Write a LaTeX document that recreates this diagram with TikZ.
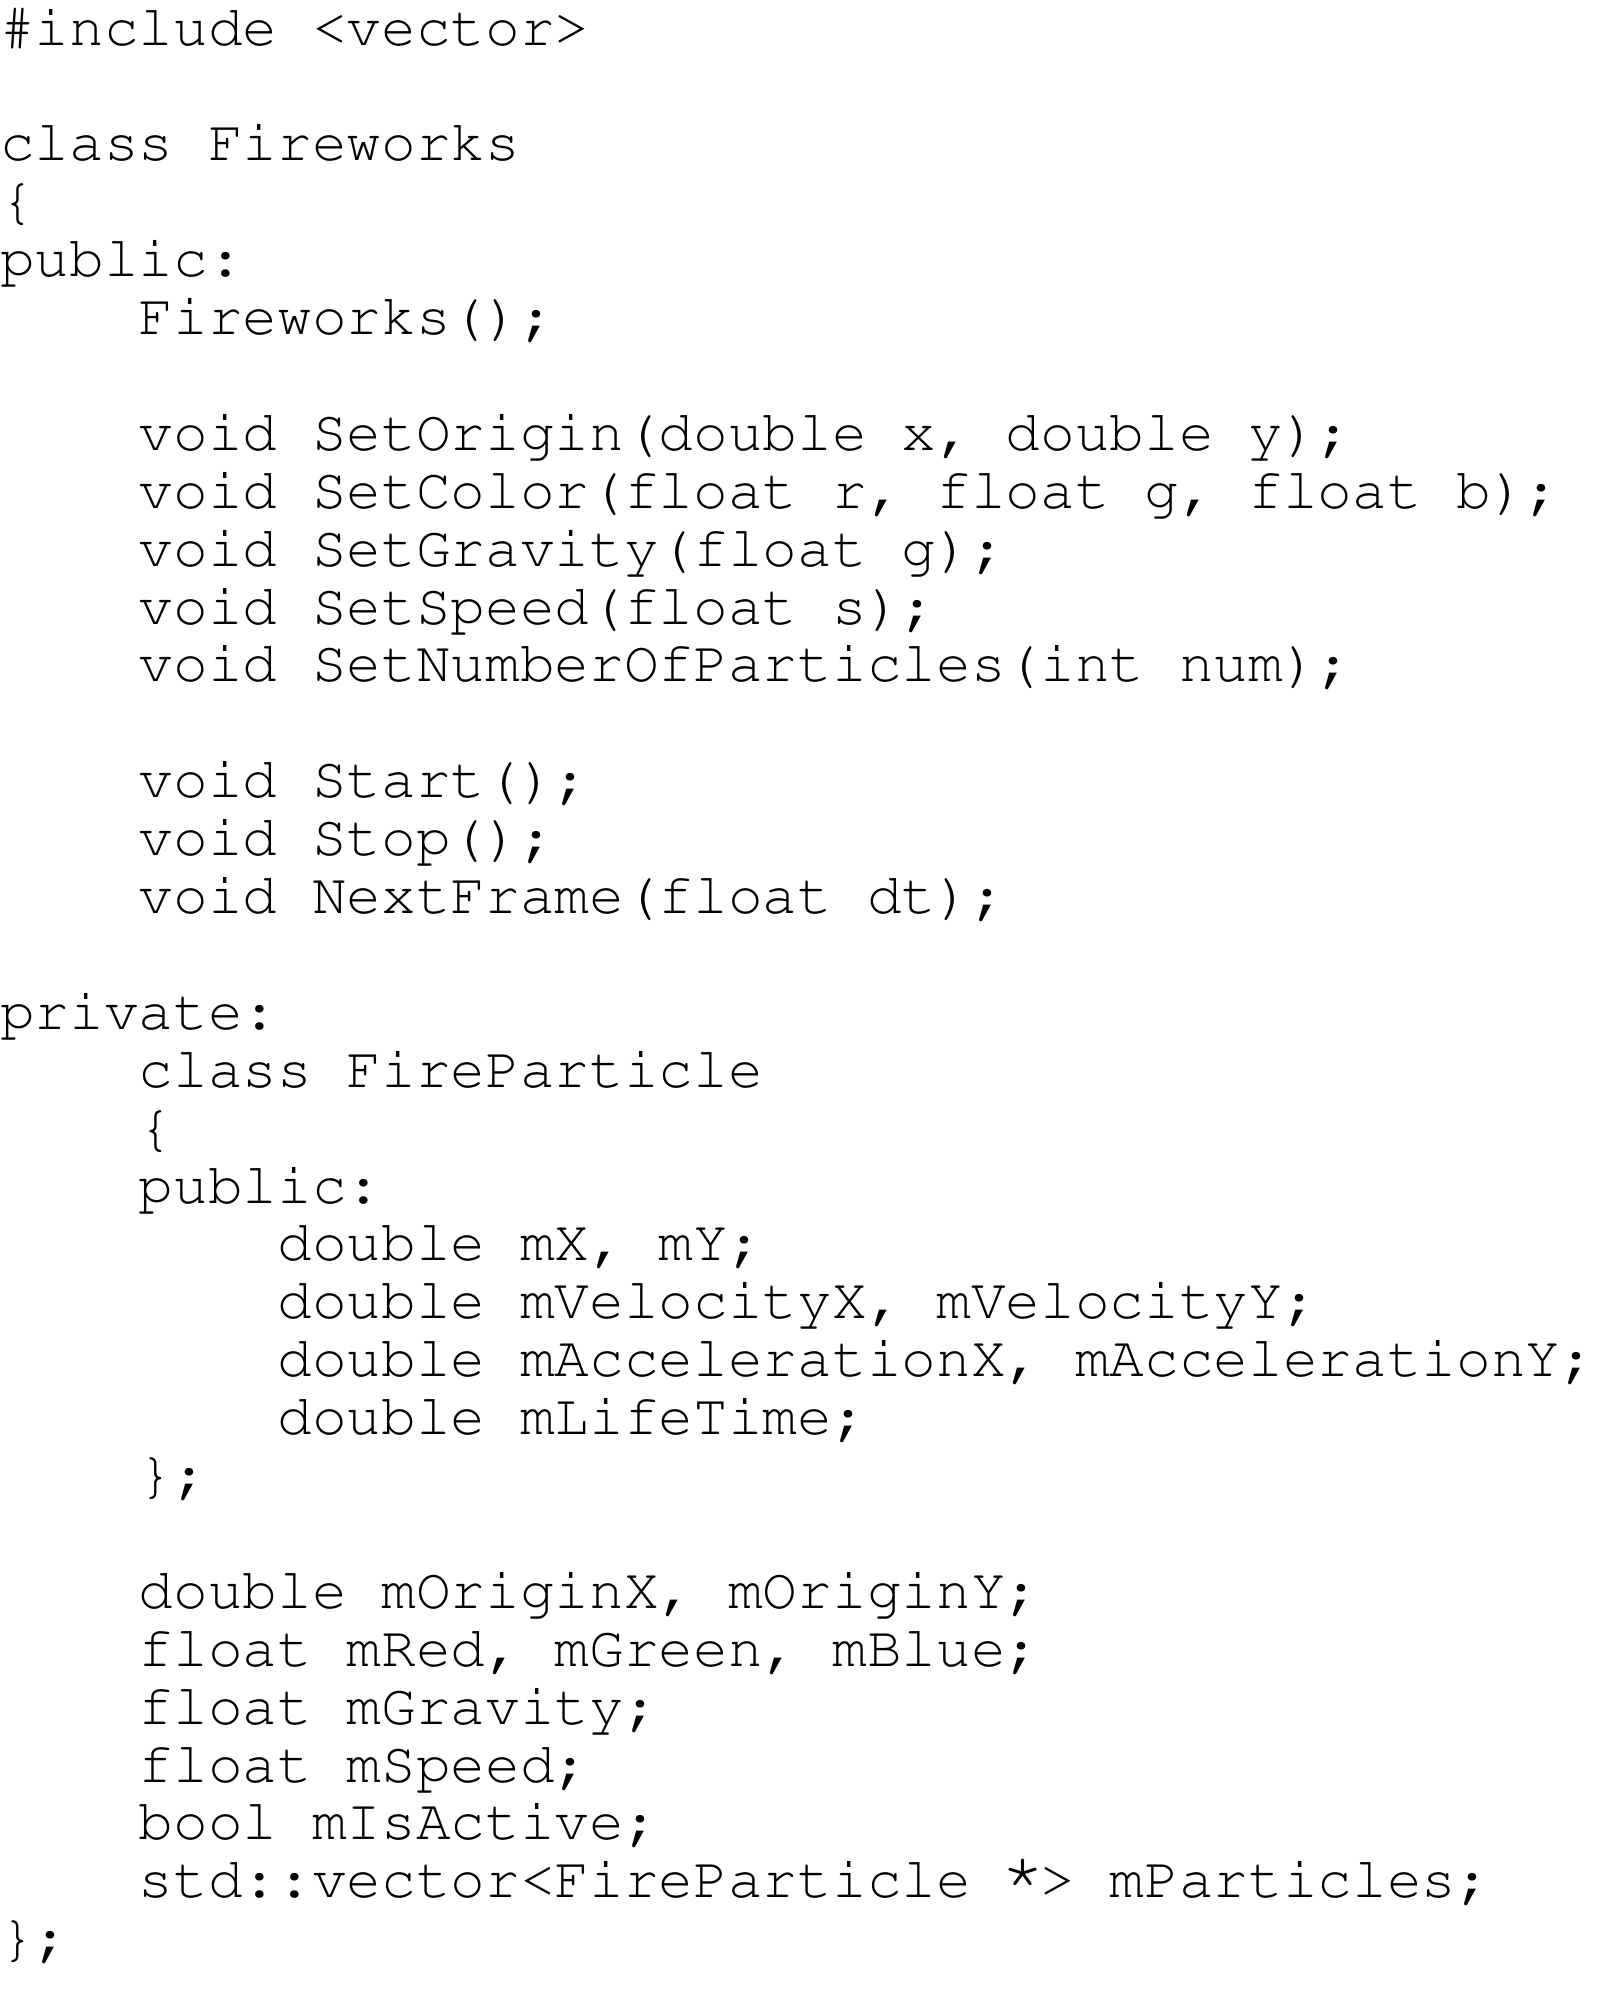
\documentclass[tikz,border=0pt]{standalone}
\usepackage[T1]{fontenc}
\usepackage{graphicx}
\newcommand{\bigstar}{\makebox[0.6em][c]{\raisebox{1.6pt}{\scalebox{1.3}{*}}}}
\begin{document}
\begin{tikzpicture}[x=0.25pt,y=-0.25pt,
  code/.style={anchor=base west,inner sep=0pt,outer sep=0pt,
    font=\fontfamily{pcr}\fontseries{m}\fontshape{n}\fontsize{14.45pt}{14.5pt}\selectfont}]
\useasboundingbox (0,0) rectangle (1596,1991);
\def\cw{34.68}
\def\lp{57.9}
\def\yb{45}
\newcommand{\codeline}[4]{\node[code] (#1) at ({#3*\cw},{\yb+(#2-1)*\lp}) {#4};}
\codeline{l1}{1}{0}{\#include <vector>}
\codeline{l3}{3}{0}{class Fireworks}
\codeline{l4}{4}{0}{\{}
\codeline{l5}{5}{0}{public:}
\codeline{l6}{6}{4}{Fireworks();}
\codeline{l8}{8}{4}{void SetOrigin(double x, double y);}
\codeline{l9}{9}{4}{void SetColor(float r, float g, float b);}
\codeline{l10}{10}{4}{void SetGravity(float g);}
\codeline{l11}{11}{4}{void SetSpeed(float s);}
\codeline{l12}{12}{4}{void SetNumberOfParticles(int num);}
\codeline{l14}{14}{4}{void Start();}
\codeline{l15}{15}{4}{void Stop();}
\codeline{l16}{16}{4}{void NextFrame(float dt);}
\codeline{l18}{18}{0}{private:}
\codeline{l19}{19}{4}{class FireParticle}
\codeline{l20}{20}{4}{\{}
\codeline{l21}{21}{4}{public:}
\codeline{l22}{22}{8}{double mX, mY;}
\codeline{l23}{23}{8}{double mVelocityX, mVelocityY;}
\codeline{l24}{24}{8}{double mAccelerationX, mAccelerationY;}
\codeline{l25}{25}{8}{double mLifeTime;}
\codeline{l26}{26}{4}{\};}
\codeline{l28}{28}{4}{double mOriginX, mOriginY;}
\codeline{l29}{29}{4}{float mRed, mGreen, mBlue;}
\codeline{l30}{30}{4}{float mGravity;}
\codeline{l31}{31}{4}{float mSpeed;}
\codeline{l32}{32}{4}{bool mIsActive;}
\codeline{l33}{33}{4}{std::vector<FireParticle \bigstar> mParticles;}
\codeline{l34}{34}{0}{\};}
\end{tikzpicture}
\end{document}
